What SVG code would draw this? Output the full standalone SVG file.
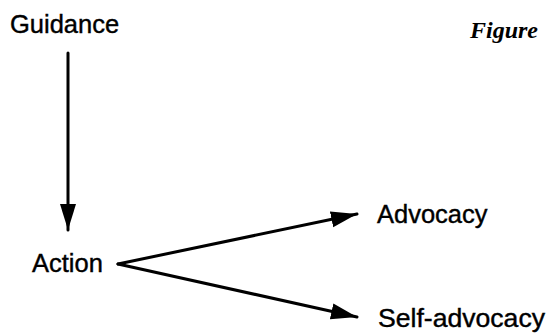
<svg xmlns="http://www.w3.org/2000/svg" width="546" height="333" viewBox="0 0 546 333">
<defs>
<marker id="ah" markerUnits="userSpaceOnUse" markerWidth="28" markerHeight="18" refX="26" refY="8" orient="auto" viewBox="0 0 28 16">
<path d="M0,0 L26,8 L0,16 Z" fill="#000"/>
</marker>
</defs>
<style>
.lbl{font-family:"Liberation Sans",Arial,sans-serif;font-size:25.5px;fill:#000;stroke:#000;stroke-width:0.4}
.fig{font-family:"Liberation Serif","Times New Roman",serif;font-style:italic;font-weight:bold;font-size:24px;fill:#000}
.conn{stroke:#000;stroke-width:3;fill:none;stroke-linecap:round}
</style>
<rect width="546" height="333" fill="#fff"/>
<g id="connectors">
<line class="conn" x1="68" y1="53" x2="68" y2="230" marker-end="url(#ah)"/>
<line class="conn" x1="118" y1="264" x2="357" y2="214" marker-end="url(#ah)"/>
<line class="conn" x1="118" y1="264" x2="357" y2="317" marker-end="url(#ah)"/>
</g>
<g id="guidance"><text class="lbl" x="10" y="33">Guidance</text></g>
<g id="action"><text class="lbl" x="32" y="272">Action</text></g>
<g id="advocacy"><text class="lbl" x="377" y="223">Advocacy</text></g>
<g id="self-advocacy"><text class="lbl" x="378" y="327" textLength="167" lengthAdjust="spacingAndGlyphs">Self-advocacy</text></g>
<g id="figure"><text class="fig" x="470" y="38">Figure</text></g>
</svg>
